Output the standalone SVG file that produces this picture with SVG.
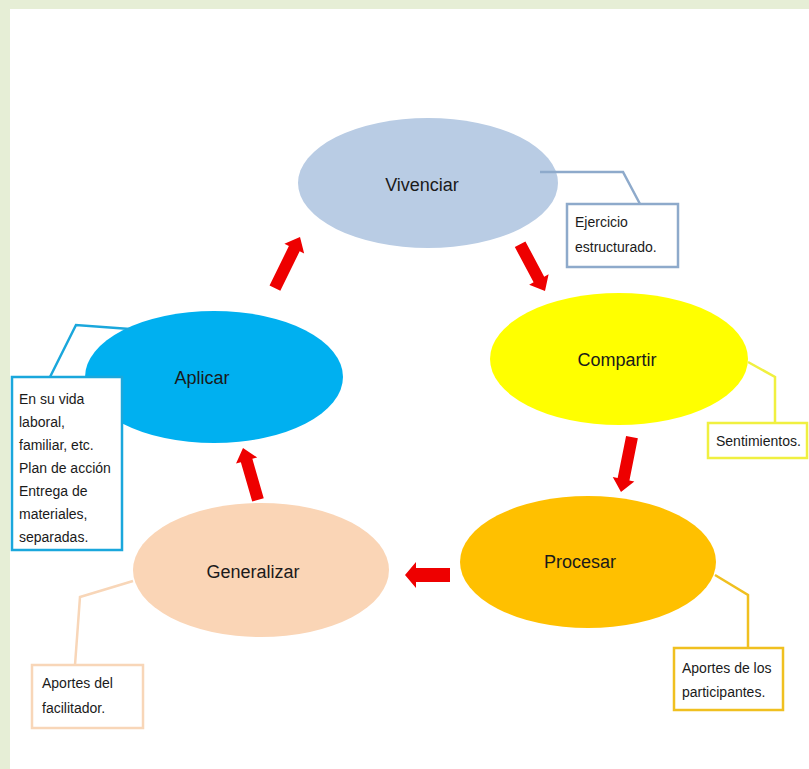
<svg xmlns="http://www.w3.org/2000/svg" width="809" height="769" viewBox="0 0 809 769">
<style>
.lbl{font-family:"Liberation Sans",Arial,sans-serif;font-size:18px;fill:#1a1a1a;text-anchor:middle;dominant-baseline:central}
.note{font-family:"Liberation Sans",Arial,sans-serif;font-size:14px;fill:#1a1a1a}
.box{fill:#ffffff;stroke-width:2.5}
.lead{fill:none;stroke-width:2.5}
.arrow{fill:#ee0000}
</style>
<defs>
<polygon id="arr" points="0,-6 -13,-6 -13,-11 0,0 -13,11 -13,6 0,6" />
</defs>
<rect x="0" y="0" width="809" height="769" fill="#ffffff"/>
<rect x="0" y="0" width="809" height="9" fill="#e6eed6"/>
<rect x="0" y="0" width="10" height="769" fill="#e6eed6"/>

<g id="connectors">
<polygon class="arrow" transform="translate(545,291) rotate(62)" points="-53,-6 -13,-6 -13,-11 0,0 -13,11 -13,6 -53,6"/>
<polygon class="arrow" transform="translate(621,492) rotate(101.3)" points="-56,-6 -13,-6 -13,-11 0,0 -13,11 -13,6 -56,6"/>
<polygon class="arrow" transform="translate(405,575) rotate(180)" points="-45,-7 -11,-7 -11,-13 0,0 -11,13 -11,7 -45,7"/>
<polygon class="arrow" transform="translate(243,448) rotate(-106.1)" points="-54,-6 -13,-6 -13,-11 0,0 -13,11 -13,6 -54,6"/>
<polygon class="arrow" transform="translate(300,237) rotate(-63.9)" points="-57,-6 -13,-6 -13,-11 0,0 -13,11 -13,6 -57,6"/>
</g>

<g id="vivenciar">
<ellipse cx="428" cy="183" rx="130" ry="65" fill="#b9cce4"/>
<text class="lbl" x="422" y="185">Vivenciar</text>
<polyline class="lead" stroke="#8eaacb" points="540,172 623,172 640,204"/>
<rect class="box" stroke="#8eaacb" x="567" y="204" width="111" height="63"/>
<text class="note" x="575" y="227">Ejercicio</text>
<text class="note" x="575" y="252">estructurado.</text>
</g>

<g id="compartir">
<ellipse cx="619" cy="359" rx="129" ry="66" fill="#ffff00"/>
<text class="lbl" x="617" y="360">Compartir</text>
<polyline class="lead" stroke="#f0f040" points="748,362 775,377 775,423"/>
<rect class="box" stroke="#f0f040" x="708" y="423" width="99" height="35"/>
<text class="note" x="716" y="446">Sentimientos.</text>
</g>

<g id="procesar">
<ellipse cx="588" cy="562" rx="128" ry="66" fill="#ffc000"/>
<text class="lbl" x="580" y="562">Procesar</text>
<polyline class="lead" stroke="#f0c020" points="715,575 748,595 748,648"/>
<rect class="box" stroke="#f0c020" x="674" y="648" width="109" height="62"/>
<text class="note" x="682" y="673">Aportes de los</text>
<text class="note" x="682" y="697">participantes.</text>
</g>

<g id="generalizar">
<ellipse cx="261" cy="570" rx="128" ry="67" fill="#fad5b6"/>
<text class="lbl" x="253" y="572">Generalizar</text>
<polyline class="lead" stroke="#f8d6b8" points="133,581 80,597 75,665"/>
<rect class="box" stroke="#f8d6b8" x="32" y="665" width="111" height="63"/>
<text class="note" x="42" y="688">Aportes del</text>
<text class="note" x="42" y="713">facilitador.</text>
</g>

<g id="aplicar">
<ellipse cx="214" cy="377" rx="129" ry="66" fill="#00b0f0"/>
<text class="lbl" x="202" y="378">Aplicar</text>
<polyline class="lead" stroke="#1aa7dc" points="130,329 76,325 50,377"/>
<rect class="box" stroke="#1aa7dc" x="12" y="377" width="110" height="173"/>
<text class="note" x="19" y="404">En su vida</text>
<text class="note" x="19" y="427">laboral,</text>
<text class="note" x="19" y="450">familiar, etc.</text>
<text class="note" x="19" y="473">Plan de acción</text>
<text class="note" x="19" y="496">Entrega de</text>
<text class="note" x="19" y="519">materiales,</text>
<text class="note" x="19" y="542">separadas.</text>
</g>
</svg>
